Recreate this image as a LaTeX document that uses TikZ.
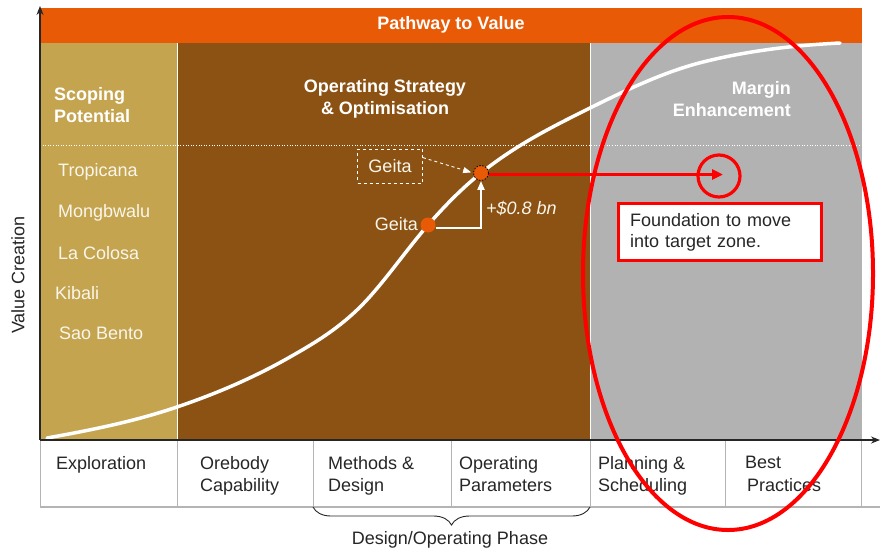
\documentclass[tikz,border=0pt]{standalone}
\usepackage{fontspec}
\setmainfont{Liberation Sans}
\usetikzlibrary{arrows.meta,decorations.pathreplacing}
\definecolor{barorange}{HTML}{E85A05}
\definecolor{paneltan}{HTML}{C4A44F}
\definecolor{panelbrown}{HTML}{8B5213}
\definecolor{panelgray}{HTML}{B2B2B2}
\definecolor{txtdark}{HTML}{262626}
\definecolor{gridgray}{HTML}{B4B4B4}
\definecolor{sitewhite}{HTML}{FAF6EC}
\begin{document}
\begin{tikzpicture}[x=1pt,y=-1pt,
  every node/.style={inner sep=0pt},
  lbl/.style={font=\fontsize{18}{22.5}\selectfont, text=txtdark},
  hdr/.style={font=\bfseries\fontsize{18}{22}\selectfont, text=white},
  site/.style={font=\fontsize{18}{22}\selectfont, text=sitewhite, anchor=west},
  cell/.style={lbl, anchor=north west, align=left},
  grid/.style={draw=gridgray, line width=1},
  axis/.style={draw=black!85, line width=1.2, -{Stealth[length=9pt,width=7pt]}},
  dotnode/.style={circle, fill=barorange, minimum size=15},
  redline/.style={draw=red, line width=3.2}
]
\useasboundingbox (0,0) rectangle (882,552);
% panels
\fill[barorange] (40,8) rectangle (862,43);
\fill[paneltan] (40,43) rectangle (177,440);
\fill[panelbrown] (177,43) rectangle (590,440);
\fill[panelgray] (590,43) rectangle (862,440);
\draw[white, line width=0.8] (177,43) -- (177,440);
\draw[white, line width=1.5] (590.5,43) -- (590.5,440);
\draw[white, line width=0.7, dash pattern=on 1pt off 1.6pt] (40,145) -- (862,145);
% headers
\node[hdr] (pathway) at (451,25) {Pathway to Value};
\node[hdr, anchor=west, align=left] (scoping) at (54,105) {Scoping\\Potential};
\node[hdr, align=center] (operating) at (385,99) {Operating Strategy\\\& Optimisation};
\node[hdr, anchor=east, align=right] (margin) at (791,99) {Margin\\Enhancement};
% sites
\node[site] (s1) at (58,172) {Tropicana};
\node[site] (s2) at (58,213) {Mongbwalu};
\node[site] (s3) at (58,253) {La Colosa};
\node[site] (s4) at (55,293) {Kibali};
\node[site] (s5) at (59,333) {Sao Bento};
% value curve
\draw[white, line width=3.5, line cap=round]
 (47,438) .. controls (90.33,430.2) and (133.67,421.7) .. (177,407)
 .. controls (214.67,394.2) and (252.33,378.5) .. (290,357)
 .. controls (312.33,344.3) and (334.67,331.2) .. (357,310)
 .. controls (380.67,287.5) and (404.33,252.2) .. (428,225)
 .. controls (445.67,204.7) and (463.33,187.1) .. (481,173)
 .. controls (514,146.6) and (547,129.5) .. (580,113)
 .. controls (621,92.5) and (662,72.25) .. (703,62)
 .. controls (748.67,50.6) and (794.33,45.3) .. (840,43);
% table
\draw[grid] (40,440) -- (40,507);
\foreach \xx in {177,313,451,590,725,861} \draw[grid] (\xx,440) -- (\xx,507);
\draw[draw=gridgray, line width=2] (40,507) -- (880,507);
\node[cell] (c1) at (56,456) {Exploration};
\node[cell] (c2) at (200,456) {Orebody\\Capability};
\node[cell] (c3) at (328,456) {Methods \&\\Design};
\node[cell] (c4) at (459,456) {Operating\\Parameters};
\node[cell] (c5) at (598,456) {Planning \&\\Scheduling};
\node[cell] (c6) at (745,456) {Best\\\hspace*{2pt}Practices};
% brace
\coordinate (bl) at (313,507);
\coordinate (br) at (590,507);
\draw[black!85, line width=0.9, decorate, decoration={brace, mirror, amplitude=18pt}] (bl) -- (br);
\node[lbl] (phase) at (450,540) {Design/Operating Phase};
% axes
\coordinate (origin) at (40,440);
\coordinate (ytop) at (40,6);
\coordinate (xend) at (880,440);
\draw[axis] (origin) -- (ytop);
\draw[axis] (origin) -- (xend);
\node[lbl, rotate=90] (ylabel) at (18,275) {Value Creation};
% Geita
\node[draw=white, dashed, line width=0.8, minimum width=65, minimum height=34,
      font=\fontsize{18}{22}\selectfont, text=sitewhite] (geitabox) at (390,166) {Geita};
\node[dotnode] (dot1) at (428,225) {};
\node[dotnode, draw=black, line width=0.8, dash pattern=on 1.5pt off 1.5pt, minimum size=15] (dot2) at (481,173) {};
\node[site, anchor=east] (geita1) at (418,224) {Geita};
\draw[white, line width=0.9, dashed, -{Triangle[length=8pt,width=6pt]}, shorten >=2pt]
  ([yshift=-9pt]geitabox.north east) -- (dot2.west);
\draw[white, line width=2, -{Triangle[length=9pt,width=7pt]}] ([yshift=-3pt]dot1.east) -| (dot2.south);
\node[site, font=\itshape\fontsize{18}{22}\selectfont] (gain) at (486,208) {+\$0.8 bn};
% target
\node[circle, redline, minimum size=42] (target) at (719,176) {};
\draw[redline, -{Triangle[length=11pt,width=10pt]}] ([yshift=-1.5pt]dot2.east) -- ([xshift=4pt,yshift=-1.5pt]dot2.east -| target.center);
\node[redline, fill=white, minimum width=203, minimum height=57, text width=180,
      inner xsep=11.5pt, align=left, font=\fontsize{18}{21}\selectfont, text=txtdark]
      (note) at (720,232) {Foundation to move\\into target zone.};
% ellipse
\draw[red, line width=4] (728,273.5) ellipse [x radius=145pt, y radius=256.5pt];
\end{tikzpicture}
\end{document}
